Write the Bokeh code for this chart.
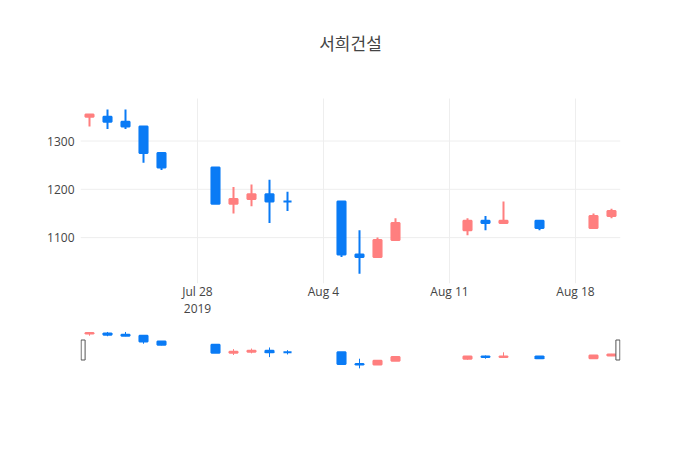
import pandas as pd
from bokeh.plotting import figure
from bokeh.models import ColumnDataSource, Range1d, FixedTicker
from bokeh.core.properties import value
from bokeh.layouts import column
from bokeh.embed import file_html
from bokeh.resources import INLINE

# ---- data ----
dates = ["2019-07-22", "2019-07-23", "2019-07-24", "2019-07-25", "2019-07-26",
         "2019-07-29", "2019-07-30", "2019-07-31", "2019-08-01", "2019-08-02",
         "2019-08-05", "2019-08-06", "2019-08-07", "2019-08-08",
         "2019-08-12", "2019-08-13", "2019-08-14", "2019-08-16",
         "2019-08-19", "2019-08-20"]
open_ = [1350, 1350, 1340, 1330, 1275, 1245, 1170, 1180, 1190, 1175,
         1175, 1065, 1060, 1095, 1115, 1135, 1130, 1135, 1120, 1145]
high = [1355, 1365, 1365, 1330, 1275, 1245, 1205, 1210, 1220, 1195,
        1175, 1115, 1100, 1140, 1140, 1145, 1175, 1135, 1150, 1160]
low = [1330, 1325, 1325, 1255, 1240, 1170, 1150, 1165, 1130, 1155,
       1060, 1025, 1060, 1095, 1105, 1115, 1130, 1115, 1120, 1140]
close = [1355, 1340, 1330, 1275, 1245, 1170, 1180, 1190, 1175, 1175,
         1065, 1060, 1095, 1130, 1135, 1130, 1135, 1120, 1145, 1155]

tick_dates = ["2019-07-28", "2019-08-04", "2019-08-11", "2019-08-18"]
tick_labels = ["Jul 28\n2019", "Aug 4", "Aug 11", "Aug 18"]
y_ticks = [1100, 1200, 1300]
title_text = "서희건설"

INC = "#ff7f7f"
DEC = "#0a7bf5"

base = pd.Timestamp("2019-07-28")
xd = [(pd.Timestamp(d) - base).days for d in dates]
xt = [(pd.Timestamp(d) - base).days for d in tick_dates]
colors = [INC if c > o else DEC for o, c in zip(open_, close)]
src = ColumnDataSource(dict(
    x=xd, open=open_, high=high, low=low, close=close,
    top=[max(o, c) for o, c in zip(open_, close)],
    bottom=[min(o, c) for o, c in zip(open_, close)],
    color=colors))

X0, X1 = -6.5, 23.5
Y0, Y1 = 1005, 1388
# frame reaches up to the title area: 185 px <-> (Y1 - Y0)
ppu = 185.0 / (Y1 - Y0)
YTOP = Y1 + 78 / ppu
YTITLE = Y1 + 56 / ppu

# ---- main figure ----
p = figure(width=684, height=327, output_backend="svg", toolbar_location=None,
           x_range=Range1d(X0, X1), y_range=Range1d(Y0, YTOP),
           min_border_left=80, min_border_right=64, min_border_top=20,
           min_border_bottom=44)
p.outline_line_color = None
p.background_fill_color = "white"
p.border_fill_color = "white"

# grid lines limited to the plotting area
p.segment(x0=xt, y0=[Y0] * len(xt), x1=xt, y1=[Y1] * len(xt),
          line_color="#eeeeee", line_width=1)
p.segment(x0=[X0] * len(y_ticks), y0=y_ticks, x1=[X1] * len(y_ticks), y1=y_ticks,
          line_color="#eeeeee", line_width=1)
p.segment(x0="x", y0="high", x1="x", y1="low", source=src,
          line_color="color", line_width=2)
p.vbar(x="x", width=0.45, top="top", bottom="bottom", source=src,
       fill_color="color", line_color="color", line_width=2)

p.text(x=[(X0 + X1) / 2], y=[YTITLE], text=[title_text],
       text_align="center", text_baseline="middle",
       text_font=value("Noto Sans CJK KR"), text_font_size="17px",
       text_color="#444444")

p.xaxis.ticker = FixedTicker(ticks=xt)
p.xaxis.major_label_overrides = {t: l for t, l in zip(xt, tick_labels)}
p.yaxis.ticker = FixedTicker(ticks=y_ticks)
for ax in (p.xaxis, p.yaxis):
    ax.axis_line_color = None
    ax.major_tick_line_color = None
    ax.minor_tick_line_color = None
    ax.major_label_text_font = "Open Sans"
    ax.major_label_text_font_size = "12px"
    ax.major_label_text_color = "#444444"
p.xaxis.major_label_standoff = -7
p.xaxis.major_label_text_line_height = 1.0
p.yaxis.major_label_standoff = 0
p.xgrid.grid_line_color = None
p.ygrid.grid_line_color = None

# ---- range slider ----
s = figure(width=684, height=53, output_backend="svg", toolbar_location=None,
           x_range=Range1d(X0, X1), y_range=Range1d(Y0, Y1),
           min_border_left=80, min_border_right=64, min_border_top=2,
           min_border_bottom=10, x_axis_type=None, y_axis_type=None)
s.outline_line_color = None
s.xgrid.visible = False
s.ygrid.visible = False
s.segment(x0="x", y0="high", x1="x", y1="low", source=src,
          line_color="color", line_width=1)
s.vbar(x="x", width=0.45, top="top", bottom="bottom", source=src,
       fill_color="color", line_color="color", line_width=2)

day_px = 540.0 / (X1 - X0)
s.rect(x=[X0 + 2.6 / day_px, X1 - 2.6 / day_px], y=[(Y0 + Y1) / 2] * 2,
       width=4, height=20, width_units="screen", height_units="screen",
       fill_color="white", line_color="#555555", line_width=1)

layout = column(p, s, spacing=0)
open("out.html", "w").write(file_html(layout, INLINE))
